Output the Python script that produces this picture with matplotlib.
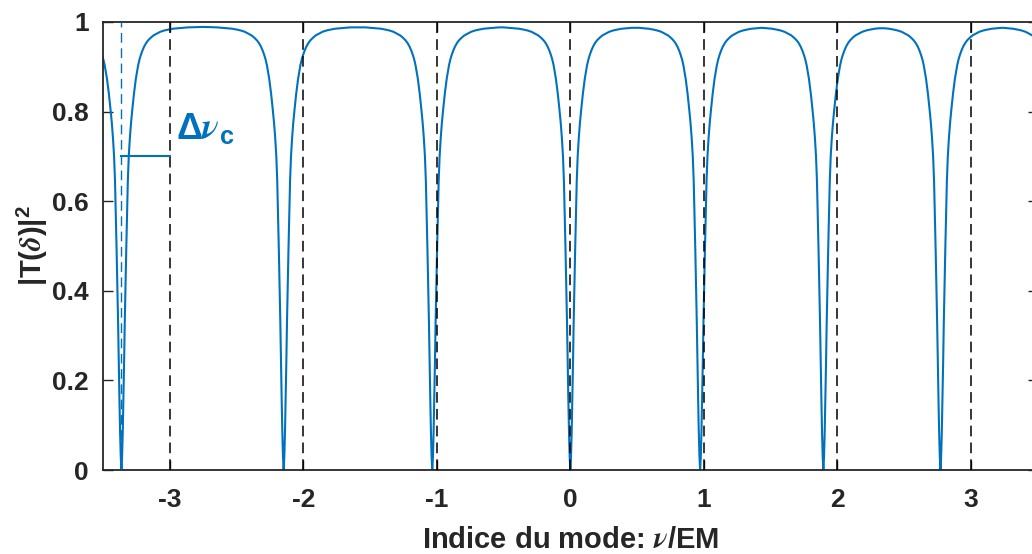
import matplotlib.pyplot as plt
import numpy as np

# Positions des creux de transmission (nu/EM)
dip_centres = [-3.362, -2.147, -1.034, 0.0, 0.972, 1.895, 2.772, 3.70]

# Profil d'un creux : écart au centre du creux -> |T|^2
profil_ecart = [0.000, 0.005, 0.010, 0.015, 0.020, 0.025, 0.030, 0.036,
                0.042, 0.048, 0.055, 0.063, 0.072, 0.082, 0.094, 0.108,
                0.125, 0.135, 0.145, 0.157, 0.170, 0.185, 0.200, 0.220,
                0.240, 0.265, 0.290, 0.320, 0.350, 0.385, 0.420, 0.460,
                0.500, 0.600]
profil_T = [0.000, 0.030, 0.085, 0.160, 0.240, 0.330, 0.405, 0.490,
            0.570, 0.645, 0.700, 0.740, 0.775, 0.806, 0.840, 0.873,
            0.903, 0.916, 0.926, 0.936, 0.945, 0.953, 0.959, 0.965,
            0.970, 0.974, 0.978, 0.981, 0.983, 0.985, 0.986, 0.987,
            0.988, 0.989]

# Modes du réseau (lignes pointillées)
mode_lines = [-3, -2, -1, 0, 1, 2, 3]
x_ticks = [-3, -2, -1, 0, 1, 2, 3]
y_ticks = [0, 0.2, 0.4, 0.6, 0.8, 1]
y_tick_labels = ["0", "0.2", "0.4", "0.6", "0.8", "1"]

x_min, x_max = -3.5, 3.5
delta_nu_y = 0.7

BLUE = "#0072BD"
GREY = "#262626"

plt.rcParams["axes.unicode_minus"] = False
plt.rcParams["font.family"] = ["Liberation Sans", "DejaVu Sans"]
plt.rcParams["font.weight"] = "bold"
plt.rcParams["mathtext.fontset"] = "custom"
plt.rcParams["mathtext.rm"] = "Liberation Sans:bold"
plt.rcParams["mathtext.bf"] = "Liberation Sans:bold"
plt.rcParams["mathtext.it"] = "STIXGeneral:italic"
try:
    plt.rcParams["mathtext.bfit"] = "STIXGeneral:italic:bold"
except KeyError:
    pass


def build_curve():
    """Assemble la courbe à partir du profil lu, creux par creux."""
    ecart = np.array(profil_ecart)
    T = np.array(profil_T)
    xs, ys = [], []
    n = len(dip_centres)
    for i, c in enumerate(dip_centres):
        left_lim = (c - dip_centres[i - 1]) / 2 if i > 0 else 10
        right_lim = (dip_centres[i + 1] - c) / 2 if i < n - 1 else 10
        m = ecart < left_lim
        xs.extend(c - ecart[m][::-1])
        ys.extend(T[m][::-1])
        m = (ecart > 0) & (ecart < right_lim)
        xs.extend(c + ecart[m])
        ys.extend(T[m])
    return np.array(xs), np.array(ys)


fig = plt.figure(figsize=(10.32, 5.54), dpi=100)
ax = fig.add_axes([0.0998, 0.1516, 0.9057, 0.8087])

x, y = build_curve()
ax.plot(x, y, color=BLUE, linewidth=1.5, zorder=2)

# Lignes pointillées des modes
for m in mode_lines:
    ax.axvline(m, color="black", linewidth=1.1, linestyle=(0, (7, 4)), zorder=3)

# Repère du premier creux et largeur Delta nu_c
ax.axvline(dip_centres[0], color=BLUE, linewidth=1.0, linestyle=(0, (7, 4)), zorder=3)
ax.plot([dip_centres[0], mode_lines[0]], [delta_nu_y, delta_nu_y],
        color=BLUE, linewidth=1.5, zorder=3)
ax.text(-2.955, 0.737, r"$\Delta\mathbfit{\nu}_{\mathrm{c}}$",
        color=BLUE, fontsize=26, ha="left", va="baseline")

ax.set_xlim(x_min, x_max)
ax.set_ylim(0, 1)
ax.set_xticks(x_ticks)
ax.set_yticks(y_ticks)
ax.set_yticklabels(y_tick_labels)

ax.tick_params(direction="in", length=7, width=1, top=True, right=True,
               labelsize=19, colors=GREY)
ax.tick_params(axis="y", pad=10)
ax.tick_params(axis="x", pad=13)
for s in ax.spines.values():
    s.set_linewidth(1.3)
    s.set_color(GREY)

ax.set_xlabel(r"Indice du mode: $\nu$/EM", fontsize=21, color=GREY,
              fontweight="bold", labelpad=10)
ax.set_ylabel(r"|T($\delta$)|$^{\mathbf{2}}$", fontsize=21, color=GREY,
              fontweight="bold", labelpad=1.5)

plt.savefig("out.png", dpi=100)
